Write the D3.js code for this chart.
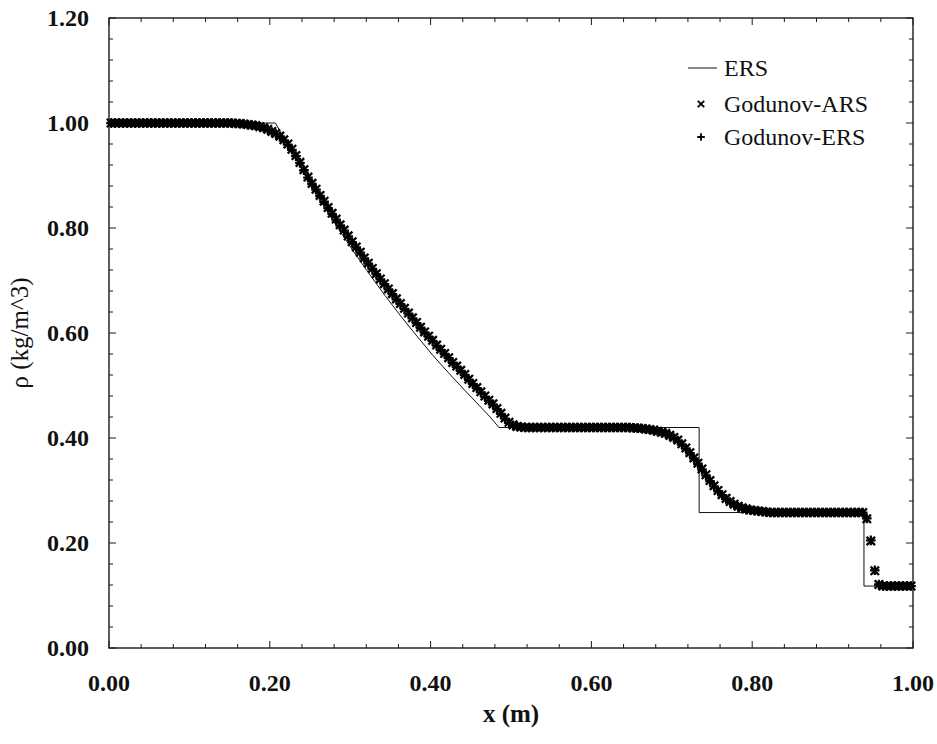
<!DOCTYPE html>
<html>
<head>
<meta charset="utf-8">
<script src="https://cdn.jsdelivr.net/npm/d3@7"></script>
<style>
  body { margin: 0; background: #fff; }
  svg text { font-family: "Liberation Serif", "DejaVu Serif", serif; fill: #111; }
</style>
</head>
<body>
<div id="chart"></div>
<script>
// exact Riemann solution (ERS) polyline
const ersX   = [0.000, 0.207, 0.223, 0.243, 0.263, 0.283, 0.303, 0.323, 0.343, 0.363,
                0.383, 0.403, 0.423, 0.443, 0.463, 0.474, 0.485, 0.734, 0.734, 0.939,
                0.939, 1.000];
const ersRho = [1.000, 1.000, 0.956, 0.903, 0.852, 0.804, 0.758, 0.714, 0.672, 0.632,
                0.594, 0.557, 0.523, 0.490, 0.458, 0.440, 0.420, 0.420, 0.258, 0.258,
                0.118, 0.118];

// cell-averaged density, 200 cells
const nCells = 200;
const godunovARS = [
  1.000, 1.000, 1.000, 1.000, 1.000, 1.000, 1.000, 1.000, 1.000, 1.000,
  1.000, 1.000, 1.000, 1.000, 1.000, 1.000, 1.000, 1.000, 1.000, 1.000,
  1.000, 1.000, 1.000, 1.000, 1.000, 1.000, 1.000, 1.000, 1.000, 1.000,
  1.000, 0.999, 0.999, 0.998, 0.997, 0.996, 0.995, 0.993, 0.991, 0.988,
  0.984, 0.980, 0.975, 0.968, 0.960, 0.950, 0.938, 0.925, 0.911, 0.897,
  0.885, 0.874, 0.862, 0.851, 0.839, 0.828, 0.817, 0.806, 0.796, 0.785,
  0.774, 0.764, 0.754, 0.743, 0.733, 0.723, 0.713, 0.703, 0.694, 0.684,
  0.675, 0.665, 0.656, 0.647, 0.638, 0.629, 0.620, 0.611, 0.602, 0.594,
  0.586, 0.577, 0.569, 0.561, 0.553, 0.544, 0.537, 0.529, 0.521, 0.512,
  0.504, 0.496, 0.488, 0.480, 0.472, 0.465, 0.456, 0.447, 0.438, 0.430,
  0.425, 0.422, 0.421, 0.420, 0.420, 0.420, 0.420, 0.420, 0.420, 0.420,
  0.420, 0.420, 0.420, 0.420, 0.420, 0.420, 0.420, 0.420, 0.420, 0.420,
  0.420, 0.420, 0.420, 0.420, 0.420, 0.420, 0.420, 0.420, 0.420, 0.420,
  0.419, 0.419, 0.418, 0.417, 0.416, 0.415, 0.413, 0.411, 0.409, 0.405,
  0.401, 0.396, 0.389, 0.381, 0.372, 0.362, 0.352, 0.341, 0.330, 0.319,
  0.309, 0.300, 0.292, 0.285, 0.279, 0.274, 0.270, 0.267, 0.265, 0.263,
  0.262, 0.261, 0.260, 0.259, 0.258, 0.258, 0.258, 0.258, 0.258, 0.258,
  0.258, 0.258, 0.258, 0.258, 0.258, 0.258, 0.258, 0.258, 0.258, 0.258,
  0.258, 0.258, 0.258, 0.258, 0.258, 0.258, 0.258, 0.258, 0.246, 0.204,
  0.147, 0.121, 0.118, 0.118, 0.118, 0.118, 0.118, 0.118, 0.118, 0.118
];
const godunovERS = [
  1.000, 1.000, 1.000, 1.000, 1.000, 1.000, 1.000, 1.000, 1.000, 1.000,
  1.000, 1.000, 1.000, 1.000, 1.000, 1.000, 1.000, 1.000, 1.000, 1.000,
  1.000, 1.000, 1.000, 1.000, 1.000, 1.000, 1.000, 1.000, 1.000, 1.000,
  1.000, 0.999, 0.999, 0.998, 0.997, 0.996, 0.995, 0.993, 0.990, 0.987,
  0.983, 0.979, 0.974, 0.967, 0.959, 0.949, 0.937, 0.924, 0.910, 0.896,
  0.884, 0.873, 0.861, 0.850, 0.838, 0.827, 0.816, 0.805, 0.795, 0.784,
  0.773, 0.763, 0.753, 0.742, 0.732, 0.722, 0.712, 0.702, 0.693, 0.683,
  0.674, 0.664, 0.655, 0.646, 0.637, 0.628, 0.619, 0.610, 0.601, 0.593,
  0.585, 0.576, 0.568, 0.560, 0.552, 0.543, 0.536, 0.528, 0.520, 0.511,
  0.503, 0.495, 0.487, 0.479, 0.471, 0.464, 0.455, 0.446, 0.437, 0.429,
  0.424, 0.422, 0.421, 0.420, 0.420, 0.420, 0.420, 0.420, 0.420, 0.420,
  0.420, 0.420, 0.420, 0.420, 0.420, 0.420, 0.420, 0.420, 0.420, 0.420,
  0.420, 0.420, 0.420, 0.420, 0.420, 0.420, 0.420, 0.420, 0.420, 0.420,
  0.419, 0.419, 0.418, 0.417, 0.416, 0.414, 0.412, 0.410, 0.408, 0.404,
  0.400, 0.395, 0.388, 0.380, 0.371, 0.361, 0.351, 0.340, 0.329, 0.318,
  0.308, 0.299, 0.291, 0.284, 0.278, 0.273, 0.269, 0.266, 0.264, 0.263,
  0.262, 0.261, 0.260, 0.259, 0.258, 0.258, 0.258, 0.258, 0.258, 0.258,
  0.258, 0.258, 0.258, 0.258, 0.258, 0.258, 0.258, 0.258, 0.258, 0.258,
  0.258, 0.258, 0.258, 0.258, 0.258, 0.258, 0.258, 0.258, 0.247, 0.205,
  0.148, 0.121, 0.118, 0.118, 0.118, 0.118, 0.118, 0.118, 0.118, 0.118
];

const xMajor = [0, 0.2, 0.4, 0.6, 0.8, 1.0];
const yMajor = [0, 0.2, 0.4, 0.6, 0.8, 1.0, 1.2];
const legendItems = ["ERS", "Godunov-ARS", "Godunov-ERS"];

const width = 937, height = 744;
const margin = {left: 109, right: 24, top: 18, bottom: 96};

const svg = d3.select("#chart").append("svg")
  .attr("width", width)
  .attr("height", height);

const x = d3.scaleLinear().domain([0, 1]).range([margin.left, width - margin.right]);
const y = d3.scaleLinear().domain([0, 1.2]).range([height - margin.bottom, margin.top]);

const cellX = d3.range(nCells).map(i => (i + 0.5) / nCells);

// frame and inward ticks on all four sides
const x0 = x.range()[0], x1 = x.range()[1], y0 = y.range()[0], y1 = y.range()[1];
const frame = svg.append("g").attr("stroke", "#1a1a1a").attr("fill", "none");
frame.append("rect")
  .attr("x", x0).attr("y", y1)
  .attr("width", x1 - x0).attr("height", y0 - y1)
  .attr("stroke-width", 1.4);

const xMinor = d3.range(0, 1.0001, 0.04);
const yMinor = d3.range(0, 1.2001, 0.04);
const isMajor = (v, step) => Math.abs(v / step - Math.round(v / step)) < 1e-6;

xMinor.forEach(v => {
  const len = isMajor(v, 0.2) ? 7 : 4;
  frame.append("line").attr("x1", x(v)).attr("x2", x(v))
    .attr("y1", y0).attr("y2", y0 - len).attr("stroke-width", 1);
  frame.append("line").attr("x1", x(v)).attr("x2", x(v))
    .attr("y1", y1).attr("y2", y1 + len).attr("stroke-width", 1);
});
yMinor.forEach(v => {
  const len = isMajor(v, 0.2) ? 7 : 4;
  frame.append("line").attr("y1", y(v)).attr("y2", y(v))
    .attr("x1", x0).attr("x2", x0 + len).attr("stroke-width", 1);
  frame.append("line").attr("y1", y(v)).attr("y2", y(v))
    .attr("x1", x1).attr("x2", x1 - len).attr("stroke-width", 1);
});

// tick labels
const fmt = d3.format(".2f");
svg.append("g").selectAll("text").data(xMajor).join("text")
  .attr("x", d => x(d)).attr("y", y0 + 43)
  .attr("text-anchor", "middle")
  .attr("font-size", 24).attr("font-weight", "bold")
  .text(fmt);
svg.append("g").selectAll("text").data(yMajor).join("text")
  .attr("x", x0 - 20).attr("y", d => y(d) + 8)
  .attr("text-anchor", "end")
  .attr("font-size", 24).attr("font-weight", "bold")
  .text(fmt);

// axis titles
svg.append("text")
  .attr("x", (x0 + x1) / 2).attr("y", 722)
  .attr("text-anchor", "middle")
  .attr("font-size", 25).attr("font-weight", "bold")
  .text("x (m)");
svg.append("text")
  .attr("transform", `translate(28,${(y0 + y1) / 2}) rotate(-90)`)
  .attr("text-anchor", "middle")
  .attr("font-size", 25)
  .text("ρ (kg/m^3)");

// exact solution line
const line = d3.line().x(d => x(d[0])).y(d => y(d[1]));
svg.append("path")
  .datum(d3.zip(ersX, ersRho))
  .attr("d", line)
  .attr("fill", "none")
  .attr("stroke", "#111")
  .attr("stroke-width", 1);

// marker shapes
function cross(g, cx, cy, r, w) {
  g.append("path")
    .attr("d", `M${cx - r},${cy - r}L${cx + r},${cy + r}M${cx - r},${cy + r}L${cx + r},${cy - r}`)
    .attr("stroke", "#000").attr("stroke-width", w).attr("fill", "none");
}
function plus(g, cx, cy, r, w) {
  g.append("path")
    .attr("d", `M${cx - r},${cy}L${cx + r},${cy}M${cx},${cy - r}L${cx},${cy + r}`)
    .attr("stroke", "#000").attr("stroke-width", w).attr("fill", "none");
}

const gARS = svg.append("g");
godunovARS.forEach((v, i) => cross(gARS, x(cellX[i]), y(v), 4.2, 2.3));
const gERS = svg.append("g");
godunovERS.forEach((v, i) => plus(gERS, x(cellX[i]), y(v), 4.8, 2.3));

// legend
const legend = svg.append("g");
const legY = [68, 104, 137];
legend.append("line")
  .attr("x1", 688).attr("x2", 717).attr("y1", legY[0]).attr("y2", legY[0])
  .attr("stroke", "#111").attr("stroke-width", 1);
cross(legend, 701, legY[1], 3.2, 1.8);
plus(legend, 701, legY[2], 3.8, 1.8);
legend.selectAll("text").data(legendItems).join("text")
  .attr("x", 724).attr("y", (d, i) => legY[i] + 8)
  .attr("font-size", 24)
  .text(d => d);
</script>
</body>
</html>
